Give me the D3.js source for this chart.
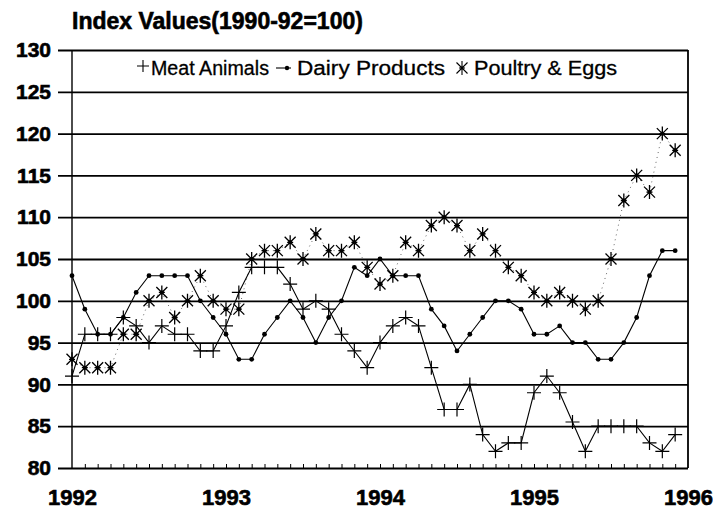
<!DOCTYPE html>
<html>
<head>
<meta charset="utf-8">
<script src="https://cdn.jsdelivr.net/npm/d3@7"></script>
<style>
  body { margin: 0; background: #fff; }
  svg text { font-family: "Liberation Sans", Arial, sans-serif; fill: #000; }
</style>
</head>
<body>
<div id="chart"></div>
<script>
// Tick labels
const years = [1992, 1993, 1994, 1995, 1996];
const yTicks = [80, 85, 90, 95, 100, 105, 110, 115, 120, 125, 130];

// Monthly index values, Jan 1992 .. Dec 1995
const meatAnimals = [91, 96, 96, 96, 98, 97, 95, 97, 96, 96, 94, 94,
  97, 101, 104, 104, 104, 102, 99, 100, 99, 96, 94, 92,
  95, 97, 98, 97, 92, 87, 87, 90, 84, 82, 83, 83,
  89, 91, 89, 85.5, 82, 85, 85, 85, 85, 83, 82, 84];
const dairyProducts = [103, 99, 96, 96, 98, 101, 103, 103, 103, 103, 100, 98,
  96, 93, 93, 96, 98, 100, 98, 95, 98, 100, 104, 103,
  105, 103, 103, 103, 99, 97, 94, 96, 98, 100, 100, 99,
  96, 96, 97, 95, 95, 93, 93, 95, 98, 103, 106, 106];
const poultryEggs = [93, 92, 92, 92, 96, 96, 100, 101, 98, 100, 103, 100,
  99, 99, 105, 106, 106, 107, 105, 108, 106, 106, 107, 104,
  102, 103, 107, 106, 109, 110, 109, 106, 108, 106, 104, 103,
  101, 100, 101, 100, 99, 100, 105, 112, 115, 113, 120, 118];

const width = 713, height = 513;
const plotLeft = 72, plotRight = 688, plotTop = 50, plotBottom = 468;

const svg = d3.select("#chart").append("svg")
  .attr("width", width)
  .attr("height", height);

const x = d3.scaleLinear().domain([1992, 1996]).range([plotLeft, plotRight]);
const y = d3.scaleLinear().domain([80, 130]).range([plotBottom, plotTop]);
const t = (i) => 1992 + i / 12;

// heavy "black" look of the printed labels
const heavy = (sel, size) => sel
  .style("font-size", size)
  .style("font-weight", "bold")
  .style("font-family", "Liberation Sans, Arial, sans-serif")
  .attr("stroke", "#000")
  .attr("stroke-width", 0.6);

// Title
svg.append("text")
  .attr("x", 72)
  .attr("y", 29)
  .text("Index Values(1990-92=100)")
  .call(heavy, "23px");

// Gridlines + y labels
const yAxis = svg.append("g")
  .attr("transform", "translate(58,0)")
  .call(d3.axisLeft(y).tickValues(yTicks).tickSizeInner(-(plotRight - 58)).tickSizeOuter(0).tickPadding(7));
yAxis.select(".domain").remove();
yAxis.selectAll("line").attr("stroke", "#000").attr("stroke-width", 1.8);
yAxis.selectAll("text").call(heavy, "21px");

// Monthly minor ticks on the bottom axis
const monthTicks = d3.range(1, 48).map(t);
const xMinor = svg.append("g")
  .attr("transform", "translate(0," + plotBottom + ")")
  .call(d3.axisBottom(x).tickValues(monthTicks).tickSize(-4).tickFormat(""));
xMinor.select(".domain").remove();
xMinor.selectAll("line").attr("stroke", "#000").attr("stroke-width", 1);

// Year labels
const xAxis = svg.append("g")
  .attr("transform", "translate(0," + plotBottom + ")")
  .call(d3.axisBottom(x).tickValues(years).tickFormat(d3.format("d")).tickSize(0).tickPadding(21));
xAxis.select(".domain").remove();
xAxis.selectAll("text").call(heavy, "22px");

// Frame: left axis and right border
svg.append("line").attr("x1", plotLeft).attr("x2", plotLeft).attr("y1", plotTop).attr("y2", plotBottom)
  .attr("stroke", "#000").attr("stroke-width", 1.4);
svg.append("line").attr("x1", plotRight).attr("x2", plotRight).attr("y1", plotTop).attr("y2", plotBottom)
  .attr("stroke", "#000").attr("stroke-width", 1.8);

// Marker shapes
const plusPath = "M-7,0H7M0,-7V7";
const starPath = "M-5.5,-5.5L5.5,5.5M-5.5,5.5L5.5,-5.5M0,-7V7M-3,0H3";

const line = d3.line()
  .x((d, i) => x(t(i)))
  .y((d) => y(d));

// Poultry & Eggs: faint dotted trail with asterisks
svg.append("path")
  .datum(poultryEggs)
  .attr("fill", "none")
  .attr("stroke", "#000")
  .attr("stroke-width", 1)
  .attr("stroke-dasharray", "1,4")
  .attr("opacity", 0.6)
  .attr("d", line);

svg.selectAll(".poultry")
  .data(poultryEggs)
  .enter()
  .append("g")
  .attr("class", "poultry")
  .attr("transform", (d, i) => "translate(" + x(t(i)) + "," + y(d) + ")")
  .call(g => g.append("path").attr("d", starPath).attr("stroke", "#000").attr("stroke-width", 1.3).attr("fill", "none"))
  .call(g => g.append("circle").attr("r", 2).attr("fill", "#000"));

// Meat Animals
svg.append("path")
  .datum(meatAnimals)
  .attr("fill", "none")
  .attr("stroke", "#000")
  .attr("stroke-width", 1.1)
  .attr("d", line);

svg.selectAll(".meat")
  .data(meatAnimals)
  .enter()
  .append("path")
  .attr("class", "meat")
  .attr("transform", (d, i) => "translate(" + x(t(i)) + "," + y(d) + ")")
  .attr("d", plusPath)
  .attr("stroke", "#000")
  .attr("stroke-width", 1.2);

// Dairy Products
svg.append("path")
  .datum(dairyProducts)
  .attr("fill", "none")
  .attr("stroke", "#000")
  .attr("stroke-width", 1.1)
  .attr("d", line);

svg.selectAll(".dairy")
  .data(dairyProducts)
  .enter()
  .append("circle")
  .attr("class", "dairy")
  .attr("cx", (d, i) => x(t(i)))
  .attr("cy", (d) => y(d))
  .attr("r", 2.4)
  .attr("fill", "#000");

// Legend
const legend = svg.append("g").attr("transform", "translate(0,68)");
const legendText = (sel, w) => sel
  .attr("y", 7)
  .attr("textLength", w)
  .attr("lengthAdjust", "spacingAndGlyphs")
  .attr("stroke", "#000")
  .attr("stroke-width", 0.3)
  .style("font-size", "20px");
legend.append("path").attr("transform", "translate(143,-2)").attr("d", "M-6,0H6M0,-6V6")
  .attr("stroke", "#000").attr("stroke-width", 1.1);
legend.append("text").attr("x", 151).text("Meat Animals").call(legendText, 118);
legend.append("line").attr("x1", 276).attr("x2", 291).attr("y1", 0).attr("y2", 0)
  .attr("stroke", "#000").attr("stroke-width", 1.1);
legend.append("circle").attr("cx", 287).attr("cy", 0).attr("r", 2.2).attr("fill", "#000");
legend.append("text").attr("x", 297).text("Dairy Products").call(legendText, 148);
legend.append("path").attr("transform", "translate(462,0)").attr("d", starPath)
  .attr("stroke", "#000").attr("stroke-width", 1.1).attr("fill", "none");
legend.append("text").attr("x", 474).text("Poultry & Eggs").call(legendText, 143);
</script>
</body>
</html>
